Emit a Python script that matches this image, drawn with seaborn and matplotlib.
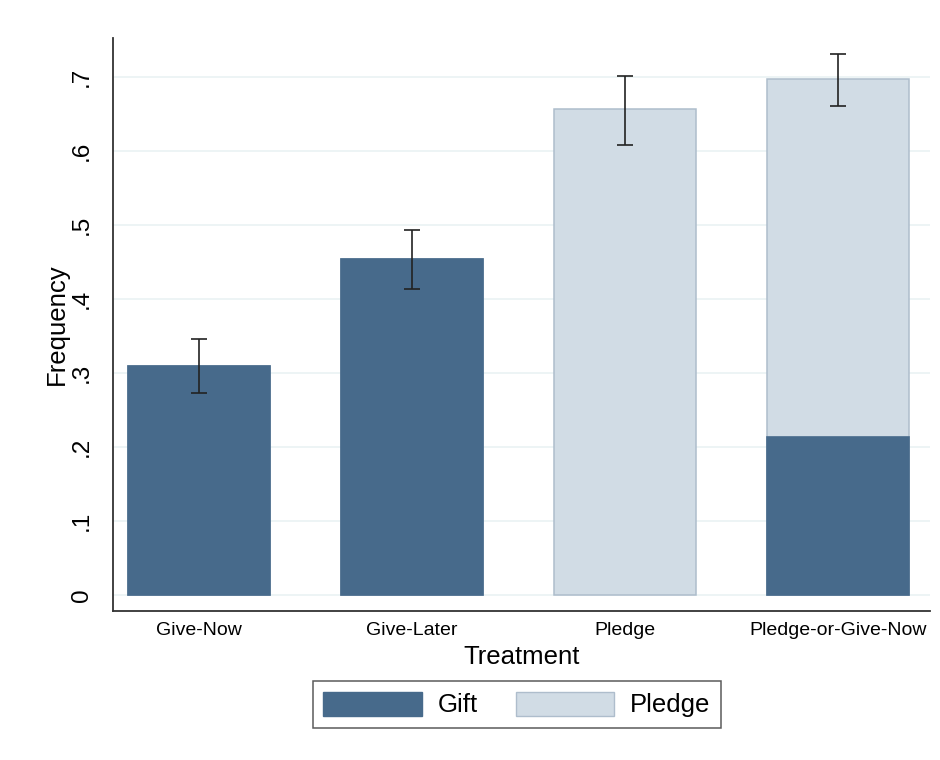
import numpy as np
import matplotlib
matplotlib.use("Agg")
import matplotlib.pyplot as plt
import matplotlib.ticker as mticker
from matplotlib.patches import Patch
import seaborn as sns

# values
treatments = ["Give-Now", "Give-Later", "Pledge", "Pledge-or-Give-Now"]
gift = [0.309, 0.454, 0.0, 0.214]
pledge = [0.0, 0.0, 0.657, 0.483]
ci_low = [0.273, 0.414, 0.609, 0.661]
ci_high = [0.346, 0.493, 0.701, 0.732]

dark = "#476a8b"
light = "#d1dce5"
light_edge = "#aebdcc"
grid_col = "#eaf2f3"


def main():
    sns.set_style("white")
    plt.rcParams["font.family"] = ["Liberation Sans", "DejaVu Sans"]
    plt.rcParams["text.color"] = "black"
    plt.rcParams["axes.labelcolor"] = "black"
    plt.rcParams["xtick.color"] = "black"
    plt.rcParams["ytick.color"] = "black"

    fig = plt.figure(figsize=(9.4, 7.6), dpi=100)
    ax = fig.add_axes([0.120, 0.196, 0.869, 0.754])

    totals = [g + p for g, p in zip(gift, pledge)]

    sns.barplot(x=treatments, y=totals, color=light, edgecolor=light_edge,
                linewidth=1.1, width=0.667, saturation=1, ax=ax, zorder=2)
    n_light = len(ax.patches)
    sns.barplot(x=treatments, y=gift, color=dark, edgecolor=dark,
                linewidth=1.2, width=0.667, saturation=1, ax=ax, zorder=3)
    # hide zero-height gift bars (Pledge treatment)
    for p in ax.patches[n_light:]:
        if p.get_height() == 0:
            p.set_visible(False)

    xs = np.arange(len(treatments))
    mid = [(lo + hi) / 2 for lo, hi in zip(ci_low, ci_high)]
    half = [(hi - lo) / 2 for lo, hi in zip(ci_low, ci_high)]
    ax.errorbar(xs, mid, yerr=half, fmt="none", ecolor="#222222",
                elinewidth=1.2, capsize=6, capthick=1.2, zorder=4)

    ax.set_xlim(-0.405, 3.43)
    ax.set_ylim(-0.0216, 0.753)
    ax.set_yticks(np.arange(0, 0.71, 0.1))
    ax.yaxis.set_major_formatter(mticker.FuncFormatter(
        lambda v, _: "0" if abs(v) < 1e-9 else ("%.1f" % v).lstrip("0")))
    ax.grid(axis="y", color=grid_col, linewidth=1.2, zorder=0)
    ax.set_axisbelow(True)

    for s in ["top", "right"]:
        ax.spines[s].set_visible(False)
    for s in ["left", "bottom"]:
        ax.spines[s].set_color("#333333")
        ax.spines[s].set_linewidth(1.3)

    ax.tick_params(axis="y", direction="out", length=7.5, width=1.1,
                   color="#333333", labelsize=17.5, pad=7)
    for lab in ax.get_yticklabels():
        lab.set_rotation(90)
        lab.set_va("center")
    ax.tick_params(axis="x", length=0, labelsize=14, pad=8)

    ax.set_ylabel("Frequency", fontsize=18.5, labelpad=1.5)
    ax.set_xlabel("Treatment", fontsize=18.5, labelpad=4)

    handles = [Patch(facecolor=dark, edgecolor=dark, label="Gift"),
               Patch(facecolor=light, edgecolor=light_edge, label="Pledge")]
    leg = fig.legend(handles=handles, ncol=2, loc="center",
                     bbox_to_anchor=(517 / 940, 1 - 704.5 / 760),
                     fontsize=18.5, frameon=True, fancybox=False,
                     handlelength=3.84, handleheight=1.09, columnspacing=1.47,
                     handletextpad=0.62, borderpad=0.4, borderaxespad=0)
    leg.get_frame().set_edgecolor("#333333")
    leg.get_frame().set_linewidth(1.1)

    fig.savefig("out.png", dpi=100, facecolor="white")


if __name__ == "__main__":
    main()
